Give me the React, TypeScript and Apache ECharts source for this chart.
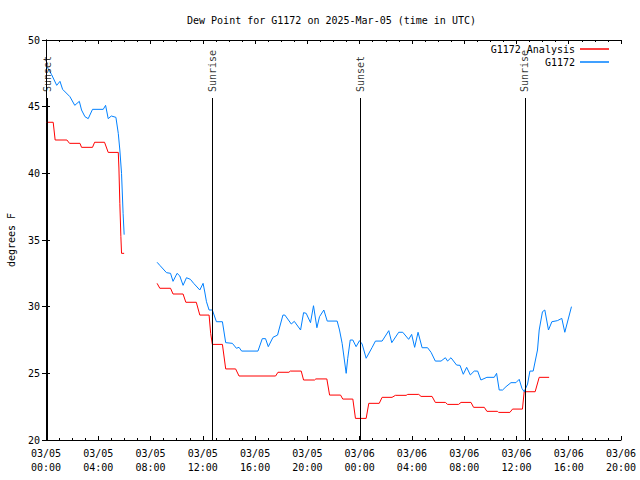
import React, { useEffect, useRef } from "react";
import * as echarts from "echarts";

// Hours since 2025-03-05 00:00 UTC
const obsHours = [
  0.05, 0.2, 0.43, 0.82, 1.07, 1.27, 1.83, 2.2, 2.55, 2.72, 2.98, 3.23, 3.56, 4.38, 4.56, 4.76, 5.0, 5.35, 5.53, 5.65, 5.78, 5.9, 5.98,
  7.0,
  8.5, 8.71, 9.22, 9.53, 9.72, 10.03, 10.24, 10.49, 10.75, 11.05, 11.3, 11.77, 12.02, 12.15, 12.28, 12.48, 12.73, 13.04, 13.5, 13.75,
  14.26, 14.57, 14.77, 14.97, 16.22, 16.55, 16.8, 17.01, 17.37, 17.72, 17.82, 18.13, 18.28, 18.77, 19.0, 19.48, 19.71, 19.91, 20.24,
  20.47, 20.73, 20.93, 21.26, 21.52, 22.28, 22.46, 22.66, 22.97, 23.09, 23.28, 23.48, 23.73, 23.99, 24.19, 24.5, 24.96, 25.21, 25.72,
  26.23, 26.46, 26.99, 27.3, 27.75, 27.98, 28.21, 28.47, 28.78, 29.2, 29.47, 29.79, 30.23, 30.56, 30.73, 30.99, 31.42, 31.68, 31.93,
  32.19, 32.47, 32.77, 33.03, 33.28, 33.74, 34.3, 34.48, 34.68, 34.94, 35.2, 35.58, 35.96, 36.21, 36.42, 36.59, 36.85, 37.03, 37.28,
  37.61, 37.74, 37.99, 38.17, 38.45, 38.71, 39.13, 39.47, 39.7, 40.21,
];
const obsValues: (number | null)[] = [
  48.0, 47.8, 47.4, 46.6, 46.9, 46.3, 45.75, 45.1, 45.4, 44.75, 44.25, 44.1, 44.8, 44.8, 45.1, 44.1, 44.3, 44.2, 43.0, 41.75, 40.0, 37.0, 35.4,
  null,
  33.33, 33.1, 32.55, 32.5, 31.9, 32.5, 32.3, 31.6, 32.17, 32.05, 31.75, 31.25, 31.75, 31.1, 30.37, 29.75, 29.75, 28.87, 28.87, 27.3,
  27.25, 26.88, 26.95, 26.67, 26.67, 27.6, 27.6, 27.0, 27.7, 27.87, 28.25, 29.37, 29.37, 28.7, 28.9, 28.25, 29.55, 29.5, 28.8,
  30.07, 28.42, 29.25, 29.75, 28.92, 28.92, 28.25, 27.25, 25.0, 26.13, 27.5, 27.5, 27.0, 27.45, 27.2, 26.13, 26.95, 27.42, 27.42,
  28.2, 27.3, 28.08, 28.08, 27.55, 27.92, 26.95, 28.08, 26.92, 26.92, 26.57, 25.92, 25.92, 26.17, 25.92, 26.17, 25.62, 25.6, 24.93,
  25.45, 24.88, 25.17, 25.17, 24.5, 24.7, 24.7, 25.0, 23.75, 23.75, 24.0, 24.3, 24.3, 24.55, 23.87, 23.62, 24.2, 25.17, 25.17,
  26.75, 28.25, 29.62, 29.75, 28.25, 28.87, 28.95, 29.12, 28.08, 30.0,
];

const analysisHours = [
  0.05, 0.55, 0.7, 1.6, 1.8, 2.6, 2.72, 3.56, 3.72, 4.48, 4.76, 5.53, 5.58, 5.65, 5.73, 5.78, 5.98,
  7.0,
  8.5, 8.71, 9.53, 9.72, 10.49, 10.7, 11.5, 11.77, 12.48, 12.6, 12.73, 13.5, 13.75, 14.51, 14.77, 17.57, 17.75, 18.59, 18.69,
  19.53, 19.71, 20.55, 20.65, 21.49, 21.7, 22.54, 22.71, 23.48, 23.68, 24.5, 24.7, 25.5, 25.72, 26.48, 26.74, 27.56, 27.68,
  28.52, 28.7, 29.54, 29.79, 30.56, 30.73, 31.57, 31.76, 32.52, 32.72, 33.54, 33.74, 34.55, 34.63, 35.5, 35.7, 36.46, 36.59,
  37.43, 37.74, 38.5,
];
const analysisValues: (number | null)[] = [
  43.83, 43.83, 42.5, 42.5, 42.25, 42.25, 41.95, 41.95, 42.33, 42.33, 41.57, 41.57, 40.4, 37.75, 35.25, 34.0, 34.0,
  null,
  31.75, 31.38, 31.38, 30.95, 30.95, 30.33, 30.33, 29.37, 29.37, 28.0, 27.17, 27.17, 25.33, 25.33, 24.8, 24.8, 25.08, 25.08, 25.17,
  25.17, 24.5, 24.5, 24.58, 24.58, 23.37, 23.37, 23.07, 23.07, 21.62, 21.62, 22.75, 22.75, 23.2, 23.2, 23.35, 23.35, 23.42,
  23.42, 23.27, 23.27, 22.82, 22.82, 22.67, 22.67, 22.82, 22.82, 22.45, 22.45, 22.15, 22.15, 22.07, 22.07, 22.32, 22.32, 23.62,
  23.62, 24.7, 24.7,
];

const eventNames = ["Sunset", "Sunrise", "Sunset", "Sunrise"];
const eventHours = [0.1, 12.71, 24.07, 36.64];

const xTickHours = [0, 4, 8, 12, 16, 20, 24, 28, 32, 36, 40, 44];
const yTicks = [20, 25, 30, 35, 40, 45, 50];

const FONT = "DejaVu Sans Mono";

function pad(n: number) {
  return n < 10 ? "0" + n : "" + n;
}
function hourLabel(h: number) {
  const day = 5 + Math.floor(h / 24);
  const hh = Math.round(h) % 24;
  return "03/" + pad(day) + "\n" + pad(hh) + ":00";
}

export default function App() {
  const ref = useRef<HTMLDivElement>(null);
  useEffect(() => {
    if (!ref.current) return;
    const chart = echarts.init(ref.current, undefined, { renderer: "svg" });
    const pairs = (hs: number[], vs: (number | null)[]) =>
      hs.map((h, i) => [h, vs[i] === null ? "-" : vs[i]]);
    const lineTop = 45.65;
    const labelBase = 46.1;
    const axisCommon = {
      axisLine: { show: true, lineStyle: { color: "#000", width: 1 } },
      splitLine: { show: false },
    };
    chart.setOption({
      animation: false,
      backgroundColor: "#fff",
      textStyle: { fontFamily: FONT },
      title: {
        text: "Dew Point for G1172 on 2025-Mar-05 (time in UTC)",
        left: 182,
        top: 10,
        textStyle: { fontFamily: FONT, fontSize: 10, fontWeight: "normal", color: "#000" },
      },
      legend: {
        orient: "vertical",
        right: 26,
        top: 38,
        align: "right",
        itemWidth: 29,
        itemHeight: 1.5,
        itemGap: 1,
        icon: "rect",
        textStyle: { fontFamily: FONT, fontSize: 10, color: "#000", lineHeight: 12 },
        data: ["G1172 Analysis", "G1172"],
      },
      grid: { left: 46, right: 19, top: 40, bottom: 40, outerBoundsMode: "none", containLabel: false },
      xAxis: [
        {
          type: "value",
          min: 0,
          max: 44,
          interval: 4,
          position: "bottom",
          ...axisCommon,
          axisTick: { show: true, inside: true, length: 4, lineStyle: { color: "#000" } },
          minorTick: { show: true, splitNumber: 4, length: 2, lineStyle: { color: "#000" } },
          axisLabel: {
            margin: 6,
            fontFamily: FONT,
            fontSize: 10,
            lineHeight: 14,
            color: "#000",
            customValues: xTickHours,
            formatter: (v: number) => hourLabel(v),
          },
        },
        {
          type: "value",
          min: 0,
          max: 44,
          interval: 4,
          position: "top",
          ...axisCommon,
          axisTick: { show: true, inside: true, length: 4, lineStyle: { color: "#000" } },
          minorTick: { show: true, splitNumber: 4, length: 2, lineStyle: { color: "#000" } },
          axisLabel: { show: false },
        },
      ],
      yAxis: [
        {
          type: "value",
          min: 20,
          max: 50,
          interval: 5,
          position: "left",
          ...axisCommon,
          axisTick: { show: true, inside: true, length: 4, lineStyle: { color: "#000" } },
          axisLabel: { margin: 6, fontFamily: FONT, fontSize: 10, color: "#000", customValues: yTicks },
          name: "degrees F",
          nameLocation: "middle",
          nameRotate: 90,
          nameGap: 30,
          nameTextStyle: { fontFamily: FONT, fontSize: 10, color: "#000" },
        },
        {
          type: "value",
          min: 20,
          max: 50,
          interval: 5,
          position: "right",
          ...axisCommon,
          axisTick: { show: true, inside: true, length: 4, lineStyle: { color: "#000" } },
          axisLabel: { show: false },
        },
      ],
      series: [
        {
          name: "G1172 Analysis",
          type: "line",
          data: pairs(analysisHours, analysisValues),
          showSymbol: false,
          symbol: "none",
          connectNulls: false,
          lineStyle: { color: "#ff0000", width: 1 },
          itemStyle: { color: "#ff0000" },
          z: 3,
        },
        {
          name: "G1172",
          type: "line",
          data: pairs(obsHours, obsValues),
          showSymbol: false,
          symbol: "none",
          connectNulls: false,
          lineStyle: { color: "#0080ff", width: 1 },
          itemStyle: { color: "#0080ff" },
          z: 4,
          markLine: {
            silent: true,
            symbol: ["none", "none"],
            label: { show: false },
            lineStyle: { color: "#000", width: 1, type: "solid" },
            data: eventHours.map((h) => [
              { coord: [h, 20] },
              { coord: [h, lineTop] },
            ]),
          },
        },
        {
          name: "events",
          type: "scatter",
          symbolSize: 0,
          silent: true,
          data: eventHours.map((h, i) => ({ value: [h, labelBase], name: eventNames[i] })),
          label: {
            show: true,
            position: "inside",
            rotate: 90,
            align: "left",
            verticalAlign: "middle",
            formatter: (p: any) => p.name,
            fontFamily: FONT,
            fontSize: 10,
            color: "#000",
          },
          z: 5,
        },
      ],
    });
    return () => chart.dispose();
  }, []);
  return (
    <div
      ref={ref}
      style={{ position: "fixed", left: 0, top: 0, width: 640, height: 480 }}
    />
  );
}
